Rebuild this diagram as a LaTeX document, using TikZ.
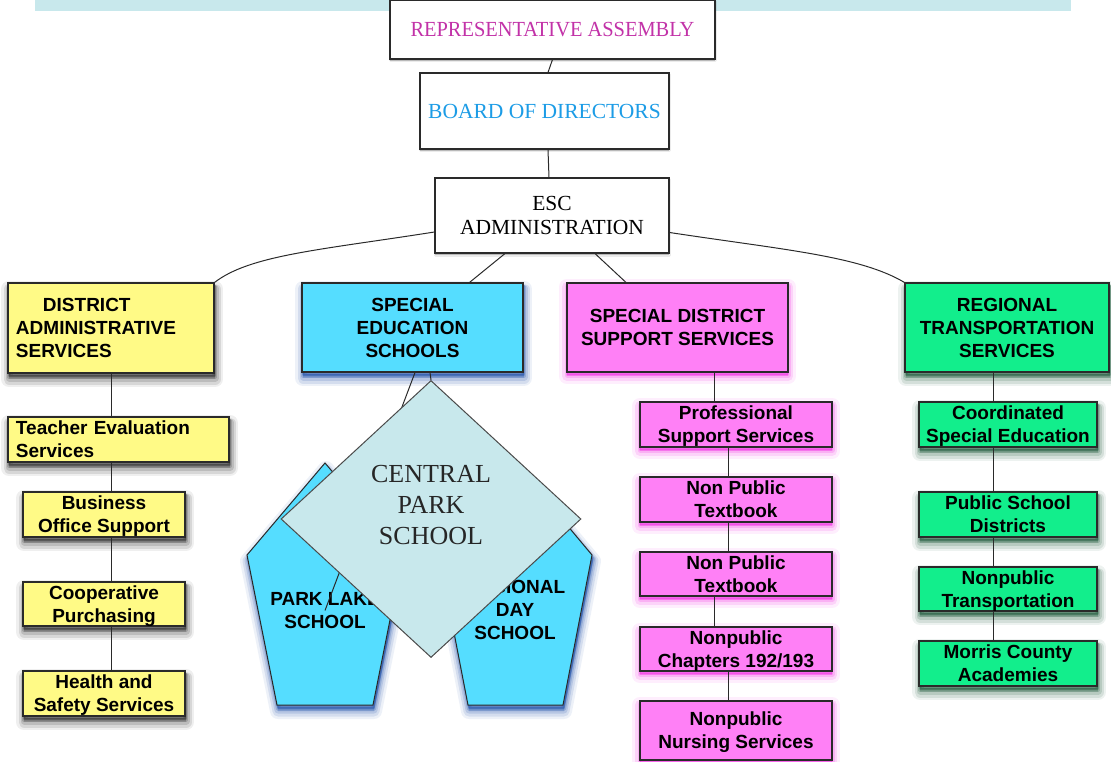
\documentclass[tikz,border=0pt]{standalone}
\usepackage{fontspec}
\setmainfont{Liberation Serif}
\setsansfont{Liberation Sans}
\usetikzlibrary{shapes.geometric,shadows}

\definecolor{bandcol}{HTML}{C8E8EC}
\definecolor{yel}{HTML}{FFFA86}
\definecolor{cya}{HTML}{55DDFF}
\definecolor{mag}{HTML}{FF80F6}
\definecolor{grn}{HTML}{12EE8C}
\definecolor{dia}{HTML}{C8E8EC}
\definecolor{repcol}{HTML}{C232A8}
\definecolor{boardcol}{HTML}{1C9CE6}
\definecolor{edge}{HTML}{2A2A2A}
\definecolor{ysh}{HTML}{303030}
\definecolor{csh}{HTML}{1E4FA8}
\definecolor{msh}{HTML}{F020E0}
\definecolor{gsh}{HTML}{1F5A3C}

\newcommand\orgsans{\fontsize{19}{23}\selectfont\sffamily\bfseries}
\newcommand\orgserif{\fontsize{21.5}{24}\selectfont\rmfamily}
% last line of a box label: descenders do not push the text upwards
\newcommand\lastln[1]{\smash{#1}}

\tikzset{
  % layered soft drop shadow, offset downwards
  softshadow/.style={
    general shadow={fill=#1, draw=#1, line width=16pt, line join=round, opacity=0.08, shadow yshift=-6pt, shadow xshift=1pt},
    general shadow={fill=#1, draw=#1, line width=11pt, line join=round, opacity=0.12, shadow yshift=-6pt, shadow xshift=1pt},
    general shadow={fill=#1, draw=#1, line width=7pt, line join=round, opacity=0.16, shadow yshift=-5pt, shadow xshift=1pt},
    general shadow={fill=#1, draw=#1, line width=4pt, line join=round, opacity=0.22, shadow yshift=-4pt, shadow xshift=1pt},
    general shadow={fill=#1, draw=#1, line width=1.5pt, line join=round, opacity=0.30, shadow yshift=-3pt, shadow xshift=1pt}},
  % coloured halo, mostly below
  glow/.style={
    general shadow={fill=#1, draw=#1, line width=16pt, line join=round, opacity=0.08, shadow yshift=-4pt},
    general shadow={fill=#1, draw=#1, line width=10pt, line join=round, opacity=0.13, shadow yshift=-4pt},
    general shadow={fill=#1, draw=#1, line width=5pt, line join=round, opacity=0.19, shadow yshift=-3pt},
    general shadow={fill=#1, draw=#1, line width=2pt, line join=round, opacity=0.28, shadow yshift=-3pt}},
  % faint grey edge below the white boxes
  lightshadow/.style={
    general shadow={fill=black, draw=black, line width=3pt, line join=round, opacity=0.08, shadow yshift=-2pt},
    general shadow={fill=black, opacity=0.15, shadow yshift=-2pt}},
  orgbox/.style={draw=edge, line width=1.1pt, inner sep=0pt, align=center, font=\orgsans},
  ybox/.style={orgbox, fill=yel, softshadow=ysh},
  cbox/.style={orgbox, fill=cya, softshadow=csh},
  mbox/.style={orgbox, fill=mag, glow=msh},
  gbox/.style={orgbox, fill=grn, softshadow=gsh},
  topbox/.style={draw=edge, line width=1.1pt, fill=white, inner sep=0pt, align=center, font=\orgserif, lightshadow},
  link/.style={draw=edge, line width=1pt},
  pent/.style={draw=edge, line width=1pt, fill=cya, line join=miter},
}

\begin{document}
\begin{tikzpicture}[x=1pt, y=-1pt]
  \useasboundingbox (0,0) rectangle (1111,762);

  % light band along the top edge
  \fill[bandcol] (35,0) rectangle (1071,11);

  % governance chain
  \node[topbox, minimum width=325, minimum height=59] (rep) at (552.5,29.5)
    {\textcolor{repcol}{\scalebox{0.95}[1]{REPRESENTATIVE ASSEMBLY}}};
  \node[topbox, minimum width=249, minimum height=76] (board) at (544.5,111)
    {\textcolor{boardcol}{BOARD OF DIRECTORS}};
  \node[topbox, minimum width=234, minimum height=75] (esc) at (552,215.5)
    {ESC\\ADMINISTRATION};

  \draw[link] (rep.south) -- ([xshift=3.5pt]board.north);
  \draw[link] ([xshift=3.5pt]board.south) -- ([xshift=-3pt]esc.north);

  % district administrative services
  \node[ybox, minimum width=206, minimum height=90, text width=190, align=left] (das) at (111,328)
    {\hspace*{27pt}DISTRICT\\ADMINISTRATIVE\\SERVICES};
  \node[ybox, minimum width=221, minimum height=45, text width=205, align=left] (tes) at (118.5,439.5)
    {Teacher Evaluation\\\lastln{Services}};
  \node[ybox, minimum width=162, minimum height=45] (bos) at (104,514.5)
    {Business\\\lastln{Office Support}};
  \node[ybox, minimum width=162, minimum height=44] (cop) at (104,604)
    {Cooperative\\\lastln{Purchasing}};
  \node[ybox, minimum width=162, minimum height=45] (hss) at (104,693.5)
    {Health and\\\lastln{Safety Services}};

  \draw[link] (das.south) -- (das.south |- tes.north);
  \draw[link] (das.south |- tes.south) -- (das.south |- bos.north);
  \draw[link] (das.south |- bos.south) -- (das.south |- cop.north);
  \draw[link] (das.south |- cop.south) -- (das.south |- hss.north);

  % special district support services
  \node[mbox, minimum width=221, minimum height=89] (sdss) at (677.5,327.5)
    {SPECIAL DISTRICT\\SUPPORT SERVICES};
  \node[mbox, minimum width=192, minimum height=45] (pss) at (736,424.5)
    {Professional\\\lastln{Support Services}};
  \node[mbox, minimum width=192, minimum height=45] (npa) at (736,499.5)
    {Non Public\\\lastln{Textbook}};
  \node[mbox, minimum width=192, minimum height=44] (npb) at (736,574)
    {Non Public\\\lastln{Textbook}};
  \node[mbox, minimum width=192, minimum height=44] (npc) at (736,649)
    {Nonpublic\\\lastln{Chapters 192/193}};
  \node[mbox, minimum width=192, minimum height=59] (nns) at (736,730.5)
    {Nonpublic\\\lastln{Nursing Services}};

  \draw[link] ([xshift=36.5pt]sdss.south) -- ([xshift=36.5pt]sdss.south |- pss.north);
  \draw[link] ([xshift=-8pt]pss.south) -- ([xshift=-8pt]npa.north);
  \draw[link] ([xshift=-8pt]npa.south) -- ([xshift=-8pt]npb.north);
  \draw[link] ([xshift=-22pt]npb.south) -- ([xshift=-22pt]npc.north);
  \draw[link] ([xshift=-8pt]npc.south) -- ([xshift=-8pt]nns.north);

  % regional transportation services
  \node[gbox, minimum width=204, minimum height=89] (rts) at (1007,327.5)
    {REGIONAL\\TRANSPORTATION\\SERVICES};
  \node[gbox, minimum width=178, minimum height=45] (cse) at (1008,424.5)
    {Coordinated\\\lastln{Special Education}};
  \node[gbox, minimum width=178, minimum height=45] (psd) at (1008,514.5)
    {Public School\\\lastln{Districts}};
  \node[gbox, minimum width=178, minimum height=44] (npt) at (1008,589)
    {Nonpublic\\\lastln{Transportation}};
  \node[gbox, minimum width=178, minimum height=45] (mca) at (1008,663.5)
    {Morris County\\\lastln{Academies}};

  \draw[link] ([xshift=-14pt]rts.south) -- ([xshift=-14pt]rts.south |- cse.north);
  \draw[link] ([xshift=-15pt]cse.south) -- ([xshift=-15pt]psd.north);
  \draw[link] ([xshift=-15pt]psd.south) -- ([xshift=-15pt]npt.north);
  \draw[link] ([xshift=-15pt]npt.south) -- ([xshift=-15pt]mca.north);

  % special education schools
  \node[cbox, minimum width=221, minimum height=89] (ses) at (412.5,327.5)
    {SPECIAL\\EDUCATION\\SCHOOLS};

  % two pentagon-shaped schools
  \path[pent, softshadow=csh]
    (325,463) -- (403,555) -- (373,705) -- (277,705) -- (247,555) -- cycle;
  \path[pent, softshadow=csh]
    (515,463) -- (592,555) -- (563,705) -- (468,705) -- (439,555) -- cycle;
  \node[font=\orgsans, align=center, inner sep=0pt] (lake) at (325,610.5) {PARK LAKE\\SCHOOL};
  \node[font=\orgsans, align=center, inner sep=0pt] (rds) at (515,610) {REGIONAL\\DAY\\SCHOOL};

  % links from the top administration
  \draw[link] ([yshift=-16.5pt]esc.west) .. controls (320,250) and (250,255) .. (das.north east);
  \draw[link] ([yshift=-17pt]esc.east) .. controls (785,250) and (860,256) .. (rts.north west);
  \draw[link] ([xshift=-47pt]esc.south) -- ([xshift=57pt]ses.north);
  \draw[link] ([xshift=43pt]esc.south) -- ([xshift=-51.5pt]sdss.north);

  % school links, the left one passing under the diamond
  \draw[link] ([xshift=2.5pt]ses.south) -- (lake.center);

  % central park school on top
  \node[diamond, draw=edge!85, line width=1pt, fill=dia, inner sep=0pt,
        minimum width=300, minimum height=277] (cps) at (431,519) {};
  \node[font=\fontsize{26}{31}\selectfont\rmfamily, text=black!85, align=center, inner sep=0pt]
    (cpst) at (431,505) {CENTRAL\\PARK\\SCHOOL};
  \draw[link] ([xshift=17.5pt]ses.south) -- (cps.north);
\end{tikzpicture}
\end{document}
